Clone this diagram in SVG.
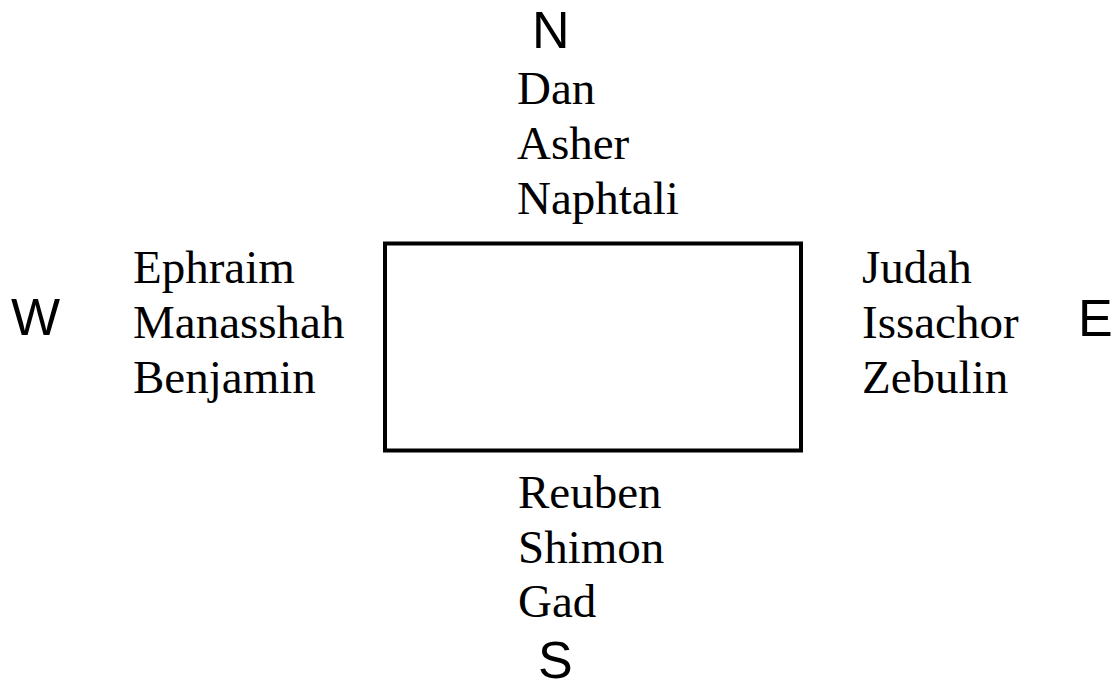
<svg xmlns="http://www.w3.org/2000/svg" width="1113" height="690" viewBox="0 0 1113 690">
  <style>
    .tribe { font-family: "Liberation Serif", "Times New Roman", serif; font-size: 47px; fill: #000; }
    .dir { font-family: "Liberation Sans", Arial, sans-serif; font-size: 52px; fill: #000; }
    .camp { fill: none; stroke: #000; stroke-width: 4; }
  </style>
  <rect width="1113" height="690" fill="#fff"/>

  <!-- central tabernacle -->
  <g id="tabernacle">
    <rect class="camp" x="385" y="243.5" width="416" height="207"/>
  </g>

  <!-- north camp -->
  <g id="north">
    <text class="dir" x="532" y="48">N</text>
    <text class="tribe" x="517" y="104">Dan</text>
    <text class="tribe" x="517" y="159">Asher</text>
    <text class="tribe" x="517" y="214">Naphtali</text>
  </g>

  <!-- west camp -->
  <g id="west">
    <text class="dir" x="11" y="335">W</text>
    <text class="tribe" x="133" y="283">Ephraim</text>
    <text class="tribe" x="133" y="338">Manasshah</text>
    <text class="tribe" x="133" y="393">Benjamin</text>
  </g>

  <!-- east camp -->
  <g id="east">
    <text class="dir" x="1078" y="336">E</text>
    <text class="tribe" x="862" y="283">Judah</text>
    <text class="tribe" x="862" y="338">Issachor</text>
    <text class="tribe" x="862" y="393">Zebulin</text>
  </g>

  <!-- south camp -->
  <g id="south">
    <text class="tribe" x="518" y="508">Reuben</text>
    <text class="tribe" x="518" y="563">Shimon</text>
    <text class="tribe" x="518" y="617">Gad</text>
    <text class="dir" x="538" y="678">S</text>
  </g>

  <g id="connectors"/>
</svg>
